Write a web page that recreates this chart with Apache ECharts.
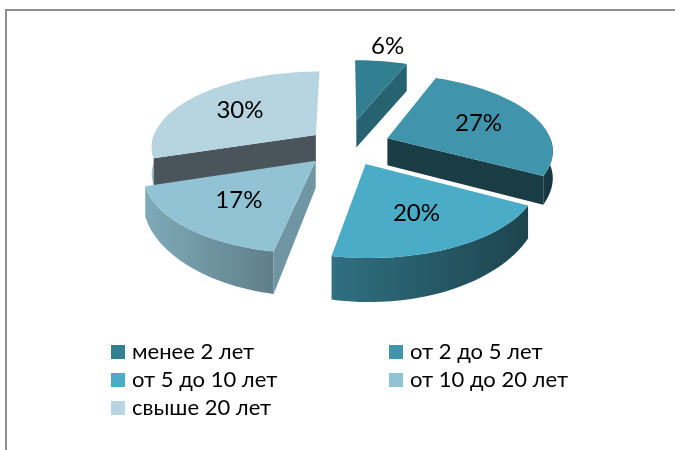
<!DOCTYPE html>
<html><head><meta charset="utf-8">
<script src="https://cdn.jsdelivr.net/npm/echarts@6/dist/echarts.min.js"></script>
<style>html,body{margin:0;padding:0;background:#fff}#c{width:675px;height:450px}</style>
</head><body><div id="c"></div>
<script>
// ---- data ----
const categories = ['менее 2 лет', 'от 2 до 5 лет', 'от 5 до 10 лет', 'от 10 до 20 лет', 'свыше 20 лет'];
const values = [6, 27, 20, 17, 30];
// ---- style ----
const colors = ['#327f91', '#4095ac', '#4aacc6', '#92c3d4', '#b7d5e1'];
const explode = [0.35, 0.27, 0.27, 0.27, 0.23];
const FONT = 'Lato';

const total = values.reduce((s, v) => s + v, 0);
const startDeg = [];
(function () { let acc = 0; values.forEach(v => { startDeg.push(acc / total * 360); acc += v; }); })();

const G = { cx: 346, cy: 145, R: 165, S: 75, a: 0.14 };
function depth(Y) { const p = Math.max(0, Y); return 27 + 11 * p * p; }
function proj(p, down) {
  const X = p[0], Y = p[1];
  const w = 1 - G.a * Y;
  return [G.cx + G.R * X / w, G.cy + G.S * Y / w + (down ? depth(Y) : 0)];
}
function shade(hex, f) {
  const n = parseInt(hex.slice(1), 16);
  const r = (n >> 16) & 255, g = (n >> 8) & 255, b = n & 255;
  return 'rgb(' + Math.round(r * f) + ',' + Math.round(g * f) + ',' + Math.round(b * f) + ')';
}
function Lo(phi) { return Math.min(0.88, Math.max(0.36, 0.4 + (phi - 120) * 0.00356)); }
function Lr(phi) {
  phi = ((phi % 360) + 360) % 360;
  const d = Math.abs(phi - 180);
  if (d >= 68) return 0.77;
  if (d <= 29) return 0.4;
  return 0.4 + (d - 29) / (68 - 29) * 0.37;
}
const RAD = Math.PI / 180;

function makeRender(i) {
  return function (params, api) {
    const v = api.value(0);
    const t0 = startDeg[i], t1 = t0 + v / total * 360;
    const m = (t0 + t1) / 2 * RAD;
    const e = explode[i];
    const ox = e * Math.sin(m), oy = -e * Math.cos(m);
    const rim = th => [ox + Math.sin(th * RAD), oy - Math.cos(th * RAD)];
    const tip = [ox, oy];
    const base = colors[i];
    const children = [];
    // outer side (front half)
    const a0 = Math.max(t0, 90), a1 = Math.min(t1, 270);
    if (a1 > a0 + 0.01) {
      const n = Math.max(6, Math.ceil((a1 - a0) / 2));
      const topPts = [], botPts = [];
      for (let k = 0; k <= n; k++) {
        const th = a0 + (a1 - a0) * k / n;
        topPts.push(proj(rim(th), false));
        botPts.push(proj(rim(th), true));
      }
      const pts = topPts.concat(botPts.reverse());
      const xa = topPts[0][0], xb = topPts[n][0];
      children.push({
        type: 'polygon', z2: 10 + Math.round((oy + 1) * 10),
        shape: { points: pts },
        style: {
          fill: {
            type: 'linear', global: true, x: xa, y: 0, x2: xb + (Math.abs(xb - xa) < 1 ? 1 : 0), y2: 0,
            colorStops: [{ offset: 0, color: shade(base, Lo(a0)) }, { offset: 1, color: shade(base, Lo(a1)) }]
          },
          stroke: null
        }
      });
    }
    // radial faces
    const radial = (th, phi) => {
      const r = rim(th);
      const pts = [proj(tip, false), proj(r, false), proj(r, true), proj(tip, true)];
      children.push({
        type: 'polygon', z2: 10 + Math.round(((tip[1] + r[1]) / 2 + 1) * 10),
        shape: { points: pts },
        style: { fill: shade(base, Lr(phi)), stroke: null }
      });
    };
    if (Math.sin(t0 * RAD) < -0.01) radial(t0, t0 - 90);
    if (Math.sin(t1 * RAD) > 0.01) radial(t1, t1 + 90);
    // top face
    const n = Math.max(8, Math.ceil((t1 - t0) / 2));
    const top = [proj(tip, false)];
    for (let k = 0; k <= n; k++) top.push(proj(rim(t0 + (t1 - t0) * k / n), false));
    children.push({ type: 'polygon', z2: 100 + i, shape: { points: top }, style: { fill: base, stroke: null } });
    // label
    const f = v < 10 ? 1.3 : 0.62;
    const lp = proj([ox + f * Math.sin(m), oy - f * Math.cos(m)], false);
    children.push({
      type: 'text', z2: 200, x: lp[0], y: lp[1],
      style: { text: Math.round(v / total * 100) + '%', fill: '#000', font: '24px ' + FONT, align: 'center', verticalAlign: 'middle' }
    });
    return { type: 'group', children: children };
  };
}

const series = categories.map((name, i) => ({
  type: 'custom', name: name, coordinateSystem: 'none',
  itemStyle: { color: colors[i] },
  data: [values[i]],
  renderItem: makeRender(i),
  silent: true
}));

const legendCommon = {
  orient: 'vertical', icon: 'rect', itemWidth: 14, itemHeight: 14, itemGap: 6, padding: 0,
  selectedMode: false,
  textStyle: { fontFamily: FONT, fontSize: 22, lineHeight: 22, color: '#000', padding: [0, 0, 0, 2] }
};

const chart = echarts.init(document.getElementById('c'), null, { renderer: 'canvas' });
chart.setOption({
  animation: false,
  backgroundColor: '#fff',
  legend: [
    Object.assign({ left: 111, top: 341, data: [categories[0], categories[2], categories[4]] }, legendCommon),
    Object.assign({ left: 389, top: 341, data: [categories[1], categories[3]] }, legendCommon)
  ],
  graphic: [
    { type: 'rect', shape: { x: 5, y: 9, width: 670, height: 2 }, style: { fill: '#8e8e8e' }, silent: true },
    { type: 'rect', shape: { x: 5, y: 9, width: 2, height: 441 }, style: { fill: '#8e8e8e' }, silent: true }
  ],
  series: series
});
</script></body></html>
